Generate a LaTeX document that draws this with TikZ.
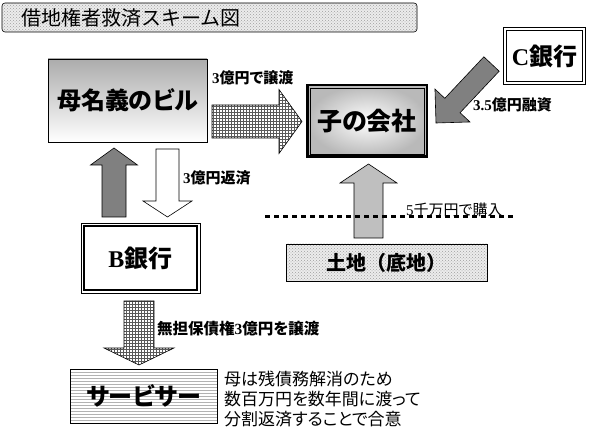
\documentclass[tikz,border=0pt]{standalone}
\usepackage{fontspec}
\setmainfont{Liberation Serif}
\newfontfamily\jp[RawFeature=+palt]{Noto Sans CJK JP}
\newfontfamily\jpw{Noto Sans CJK JP}
\usetikzlibrary{calc,patterns}
\newcommand\ltn[1]{{\rmfamily\bfseries #1}}
\newcommand\barr[6]{%
  \coordinate (bah) at ($(#3)!#6!(#2)$);
  \draw[#1] ($(#2)!#4!90:(#3)$) -- ($(bah)!#4!90:(#3)$) -- ($(bah)!#5!90:(#3)$)
    -- (#3) -- ($(bah)!#5!-90:(#3)$) -- ($(bah)!#4!-90:(#3)$) -- ($(#2)!#4!-90:(#3)$) -- cycle;}
\begin{document}
\begin{tikzpicture}[x=1pt,y=-1pt,
  bigtext/.style={font=\jp\bfseries\fontsize{24}{24}\selectfont},
  lbl/.style={anchor=west,inner sep=0pt,font=\jp\bfseries\fontsize{15}{15}\selectfont},
  gridarrow/.style={draw=black,line width=0.6pt,preaction={fill=white},pattern=grid,pattern color=gray!70!black},
  darkarrow/.style={draw=black,line width=0.6pt,fill=gray},
  whitearrow/.style={draw=black,line width=0.6pt,fill=white},
  lightarrow/.style={draw=black,line width=0.6pt,fill=black!25},
  dotbox/.style={draw=black,line width=0.6pt,preaction={fill=gray!15},pattern=crosshatch dots,pattern color=gray!75}]
\useasboundingbox (0,0) rectangle (589,430);

% title
\node[dotbox,rounded corners=3pt,minimum width=415pt,minimum height=29pt,inner sep=0pt] (title) at (209.5,17.5) {};
\node[anchor=west,inner sep=0pt,font=\jpw\fontsize{20}{20}\selectfont] (titletext) at (21,17.5) {借地権者救済スキーム図};

% boxes
\node[draw=black,line width=0.8pt,minimum width=159pt,minimum height=83pt,inner sep=0pt,
      top color=gray!65,bottom color=white,bigtext] (mother) at (127.5,100.5) {母名義のビル};

\node[draw=black,line width=2.5pt,minimum width=119.5pt,minimum height=71.5pt,inner sep=0pt,
      inner color=white,outer color=gray!55,font=\jp\bfseries\fontsize{25}{25}\selectfont] (child) at (367,121) {子の会社};
\draw[line width=0.8pt] ([xshift=4pt,yshift=-4pt]child.north west) rectangle ([xshift=-4pt,yshift=4pt]child.south east);

\node[draw=black,line width=0.8pt,minimum width=82pt,minimum height=57pt,inner sep=0pt,fill=white,bigtext] (cbank) at (544.5,56) {\ltn{C}銀行};
\draw[line width=1.4pt] ([xshift=3.5pt,yshift=-3.5pt]cbank.north west) rectangle ([xshift=-3.5pt,yshift=3.5pt]cbank.south east);

\node[draw=black,line width=0.8pt,minimum width=119pt,minimum height=70pt,inner sep=0pt,fill=white,bigtext] (bbank) at (140.5,258) {\ltn{B}銀行};
\draw[line width=1.4pt] ([xshift=3.5pt,yshift=-3.5pt]bbank.north west) rectangle ([xshift=-3.5pt,yshift=3.5pt]bbank.south east);

\node[dotbox,minimum width=201pt,minimum height=37pt,inner sep=0pt,font=\jpw\bfseries\fontsize{20}{20}\selectfont] (land) at (386.5,262.5) {土地（底地）};

\node[draw=black,line width=0.6pt,minimum width=147pt,minimum height=54pt,inner sep=0pt,
      preaction={fill=white},pattern=horizontal lines,pattern color=gray!60,bigtext] (servicer) at (143.5,396) {サービサー};

% arrow end points
\coordinate (a1s) at (212,121.5);   \coordinate (a1t) at (302,121.5);
\coordinate (a2s) at (491.5,64);    \coordinate (a2t) at (436,123);
\coordinate (a3s) at (114,217);     \coordinate (a3t) at (114,148);
\coordinate (a4s) at (167.5,149);   \coordinate (a4t) at (167.5,217);
\coordinate (a5s) at (368.5,238);   \coordinate (a5t) at (368.5,164);
\coordinate (a6s) at (139,301);     \coordinate (a6t) at (139,365);

\barr{gridarrow}{a1s}{a1t}{16.5pt}{32pt}{23pt}
\barr{darkarrow}{a2s}{a2t}{10.5pt}{24pt}{24pt}
\barr{darkarrow}{a3s}{a3t}{12pt}{23.5pt}{17pt}
\barr{whitearrow}{a4s}{a4t}{11.5pt}{24.5pt}{16pt}
\barr{lightarrow}{a5s}{a5t}{14.5pt}{28.5pt}{19pt}
\barr{gridarrow}{a6s}{a6t}{15pt}{35pt}{17pt}

% dotted line
\coordinate (dl1) at (265,217); \coordinate (dl2) at (513,217);
\draw[line width=3pt,dash pattern=on 5pt off 4pt] (dl1) -- (dl2);

% labels
\node[lbl] (l1) at (212,78) {\ltn{3}億円で譲渡};
\node[lbl] (l2) at (473,105) {\ltn{3.5}億円融資};
\node[lbl] (l3) at (183,178) {\ltn{3}億円返済};
\node[lbl,font=\jp\fontsize{15}{15}\selectfont] (l4) at (406,210) {{\rmfamily 5}千万円で購入};
\node[lbl,font=\jp\bfseries\fontsize{15.5}{15.5}\selectfont] (l5) at (157,329) {無担保債権\ltn{3}億円を譲渡};

\node[anchor=north west,align=left,inner sep=0pt,font=\jp\fontsize{17}{20}\selectfont] (note) at (224,371)
  {母は残債務解消のため\\数百万円を数年間に渡って\\分割返済することで合意};
\end{tikzpicture}
\end{document}
